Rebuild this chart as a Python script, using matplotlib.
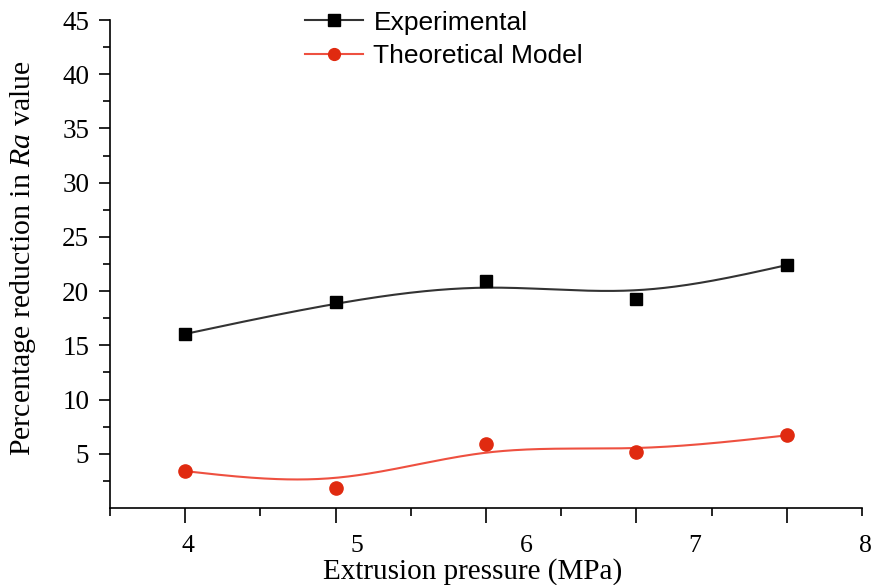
import numpy as np
import matplotlib
matplotlib.use("Agg")
import matplotlib.pyplot as plt
import matplotlib.transforms as mtransforms

# data
pressure = [4, 5, 6, 7, 8]
experimental = [16.05, 19.0, 20.9, 19.3, 22.4]
theoretical = [3.4, 1.85, 5.9, 5.15, 6.7]

xtick_labels = ["4", "5", "6", "7", "8"]
# the printed labels sit a bit off the tick marks in the original
xlabel_pos = [4.02, 5.14, 6.27, 7.39, 8.52]
ytick_vals = [5, 10, 15, 20, 25, 30, 35, 40, 45]

plt.rcParams["mathtext.fontset"] = "custom"
plt.rcParams["mathtext.rm"] = "Liberation Serif"
plt.rcParams["mathtext.it"] = "Liberation Serif:italic"


def bspline(px, py, n=60):
    # uniform cubic B-spline, data points as control points,
    # phantom end points so the curve starts/ends on the first/last point
    P = np.column_stack([px, py]).astype(float)
    P = np.vstack([2 * P[0] - P[1], P, 2 * P[-1] - P[-2]])
    s = np.linspace(0, 1, n)
    b0 = (1 - s) ** 3 / 6
    b1 = (3 * s**3 - 6 * s**2 + 4) / 6
    b2 = (-3 * s**3 + 3 * s**2 + 3 * s + 1) / 6
    b3 = s**3 / 6
    out = []
    for i in range(len(P) - 3):
        seg = (np.outer(b0, P[i]) + np.outer(b1, P[i + 1])
               + np.outer(b2, P[i + 2]) + np.outer(b3, P[i + 3]))
        out.append(seg)
    out = np.vstack(out)
    return out[:, 0], out[:, 1]


fig = plt.figure(figsize=(8.75, 5.85), dpi=100)
ax = fig.add_axes([110 / 875, 77 / 585, 752 / 875, 488 / 585])

cx, cy = bspline(pressure, experimental)
ax.plot(cx, cy, color="#333333", lw=1.5, zorder=2)
ax.plot(pressure, experimental, ls="none", marker="s", ms=9, color="black", zorder=3)

tx, ty = bspline(pressure, theoretical)
ax.plot(tx, ty, color="#ee5040", lw=1.5, zorder=2)
ax.plot(pressure, theoretical, ls="none", marker="o", ms=9.5, color="#e02a10", zorder=3)

# legend handles
h1, = ax.plot([], [], color="#333333", lw=1.5, marker="s", ms=8, mfc="black", mec="black")
h2, = ax.plot([], [], color="#ee5040", lw=1.5, marker="o", ms=8.5, mfc="#e02a10", mec="#e02a10")
leg = fig.legend([h1, h2], ["Experimental", "Theoretical Model"], loc="upper left",
                 bbox_to_anchor=(289 / 875, 1.009), frameon=False, handlelength=2.2,
                 labelspacing=0.35, handletextpad=0.4, borderaxespad=0.2,
                 prop={"family": "Liberation Sans", "size": 19})

ax.set_xlim(3.5, 8.5)
ax.set_ylim(0, 45)
for s in ["top", "right"]:
    ax.spines[s].set_visible(False)
ax.spines["left"].set_linewidth(1.2)
ax.spines["bottom"].set_linewidth(1.2)

ax.set_xticks(pressure)
ax.set_xticks(np.arange(3.5, 8.6, 0.5), minor=True)
ax.set_xticklabels([])
ax.set_yticks(ytick_vals)
ax.set_yticks(np.arange(2.5, 45, 5), minor=True)
ax.set_yticklabels([str(v) for v in ytick_vals], family="Liberation Serif", fontsize=19.5)
ax.tick_params(axis="x", which="major", length=11, width=1.2, direction="out")
ax.tick_params(axis="x", which="minor", length=6, width=1.2, direction="out")
ax.tick_params(axis="y", which="major", length=8, width=1.2, direction="out", pad=7)
ax.tick_params(axis="y", which="minor", length=5, width=1.2, direction="out")

trans = mtransforms.blended_transform_factory(ax.transData, ax.transAxes)
for xp, lab in zip(xlabel_pos, xtick_labels):
    ax.text(xp, -0.077, lab, transform=trans, ha="center", va="center",
            family="Liberation Serif", fontsize=18.5)

fig.text(473 / 875, 1 - 572 / 585, "Extrusion pressure (MPa)", ha="center", va="center",
         family="Liberation Serif", fontsize=21)
fig.text(23 / 875, 1 - 258 / 585, r"Percentage reduction in $\mathit{Ra}$ value", rotation=90,
         ha="center", va="center", family="Liberation Serif", fontsize=21.5)

fig.savefig("out.png", dpi=100)
